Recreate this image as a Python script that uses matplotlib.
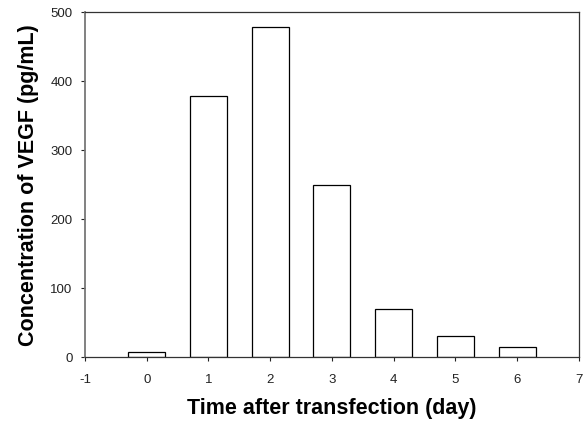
import matplotlib
matplotlib.use("Agg")
from matplotlib import pyplot as plt

days = [0, 1, 2, 3, 4, 5, 6]
vegf = [7, 378, 479, 250, 69, 30, 14]
x_ticks = [-1, 0, 1, 2, 3, 4, 5, 6, 7]
y_ticks = [0, 100, 200, 300, 400, 500]

plt.rcParams["font.family"] = ["Liberation Sans", "DejaVu Sans"]
plt.rcParams["axes.unicode_minus"] = False

fig = plt.figure(figsize=(5.86, 4.23), dpi=100)
ax = fig.add_axes([0.145, 0.156, 0.843, 0.815])

ax.bar(days, vegf, width=0.6, color="white", edgecolor="black", linewidth=0.9)

ax.set_xlim(-1, 7)
ax.set_ylim(0, 500)
ax.set_xticks(x_ticks)
ax.set_yticks(y_ticks)
ax.tick_params(direction="out", length=3, width=0.8, labelsize=9.5, colors="#222222")
ax.tick_params(axis="x", pad=9)
ax.tick_params(axis="y", pad=6)
for side in ("top", "right", "bottom"):
    ax.spines[side].set_linewidth(0.9)
    ax.spines[side].set_color("#333333")
ax.spines["left"].set_linewidth(1.3)
ax.spines["left"].set_color("#777777")

ax.set_xlabel("Time after transfection (day)", fontsize=15.5, fontweight="bold", labelpad=9)
ax.set_ylabel("Concentration of VEGF (pg/mL)", fontsize=15.5, fontweight="bold", labelpad=8)

fig.savefig("out.png", dpi=100)
